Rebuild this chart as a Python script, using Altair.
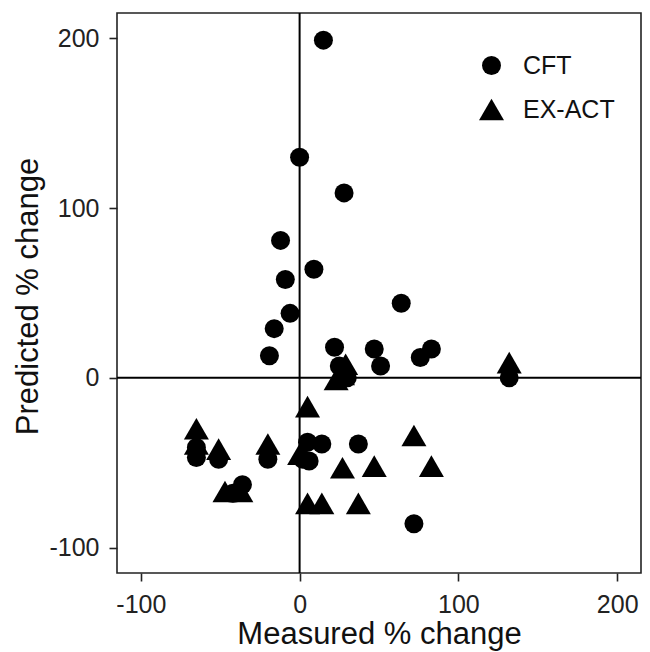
import altair as alt
import pandas as pd

groups = ["CFT", "EX-ACT"]

cft_x = [15, 0, 28, -12, 9, -9, -6, -16, 64, -19, 22, 47, 51, 83, 76, 25, 30, 132,
         -65, -65, -51, -20, 5, 14, 37, 2, 6, 72, -42, -36]
cft_y = [199, 130, 109, 81, 64, 58, 38, 29, 44, 13, 18, 17, 7, 17, 12, 7, 0, 0,
         -41, -47, -48, -48, -38, -39, -39, -48, -49, -86, -68, -63]

exact_x = [29, 23, 27, 132, 72, 83, 47, 27, 5, -65, -65, -51, -20, 0, 5, 14, 37, -47, -37]
exact_y = [8, -1, 2, 9, -34, -52, -52, -53, -17, -30, -39, -42, -39, -45, -74, -74, -74, -67, -67]

axis_ticks = [-100, 0, 100, 200]
ref_zero = [0]

df = pd.DataFrame({
    "x": exact_x + cft_x,
    "y": exact_y + cft_y,
    "group": ["EX-ACT"] * len(exact_x) + ["CFT"] * len(cft_x),
})
zero_df = pd.DataFrame({"z": ref_zero})

FONT = "Liberation Sans"
dom = [-115, 215]
label_expr = "datum.value < 0 ? '-' + abs(datum.value) : '' + datum.value"

xscale = alt.Scale(domain=dom, nice=False, zero=False)
yscale = alt.Scale(domain=dom, nice=False, zero=False)

legend = alt.Legend(
    title=None, orient="none", legendX=362, legendY=40,
    labelFont=FONT, labelFontSize=25, labelColor="#111111",
    rowPadding=18, labelOffset=19, symbolStrokeWidth=0,
)

points = alt.Chart(df).mark_point(filled=True, opacity=1, color="black").encode(
    x=alt.X("x:Q", scale=xscale,
            axis=alt.Axis(values=axis_ticks, title="Measured % change", labelExpr=label_expr,
                          titleBaseline="alphabetic", titleY=70)),
    y=alt.Y("y:Q", scale=yscale,
            axis=alt.Axis(values=axis_ticks, title="Predicted % change", labelExpr=label_expr,
                          titleBaseline="alphabetic", titleX=-80, titleY=283)),
    shape=alt.Shape("group:N", scale=alt.Scale(domain=groups, range=["circle", "triangle-up"]),
                    legend=legend),
    size=alt.Size("group:N", scale=alt.Scale(domain=groups, range=[361, 625]),
                  legend=legend),
)

vline = alt.Chart(zero_df).mark_rule(color="black", strokeWidth=2).encode(
    x=alt.X("z:Q", scale=xscale)
)
hline = alt.Chart(zero_df).mark_rule(color="black", strokeWidth=2).encode(
    y=alt.Y("z:Q", scale=yscale)
)

chart = alt.layer(vline, hline, points).properties(
    width=524, height=560,
    autosize=alt.AutoSizeParams(type="none"),
    padding={"left": 109, "top": 5, "right": 1, "bottom": 79},
).configure_view(
    stroke="#222222", strokeWidth=1.6
).configure_axis(
    grid=False, domain=False,
    ticks=True, tickColor="#222222", tickSize=8, tickWidth=1.6,
    labelFont=FONT, labelFontSize=25, labelColor="#222222",
    titleFont=FONT, titleFontSize=31, titleColor="#111111", titleFontWeight="normal",
).configure_axisX(
    labelPadding=31, labelBaseline="alphabetic",
).configure_axisY(
    labelPadding=10, labelBaseline="middle",
)

chart.save("out.html", embed_options={"renderer": "svg", "actions": False})
